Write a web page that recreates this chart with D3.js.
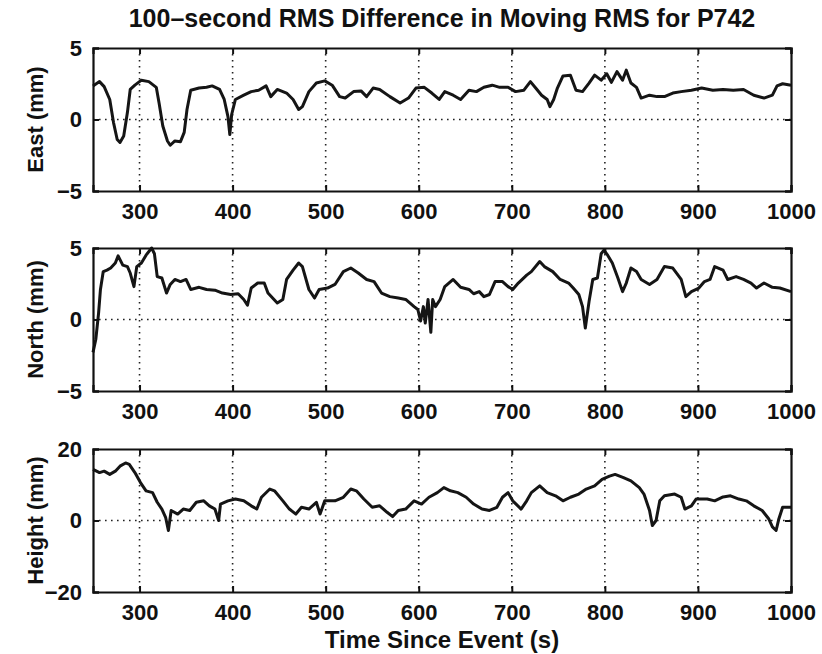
<!DOCTYPE html>
<html>
<head>
<meta charset="utf-8">
<script src="https://cdn.jsdelivr.net/npm/d3@7"></script>
<style>
  body { margin: 0; background: #fff; }
  text { font-family: "Liberation Sans", Arial, Helvetica, sans-serif; font-weight: bold; fill: #111; }
</style>
</head>
<body>
<script>
// time axis ticks (seconds since event)
const xTickValues = [300, 400, 500, 600, 700, 800, 900, 1000];

// East component
const eastTime = [250, 257, 262, 268, 272, 276, 279, 283, 287, 290, 295, 302, 310, 318, 321, 325, 330, 333, 338, 344,
  348, 351, 355, 364, 372, 378, 386, 391, 395, 397, 399, 403, 412, 420, 428, 436, 441, 448, 458, 465,
  471, 475, 482, 490, 499, 507, 515, 521, 530, 538, 544, 551, 558, 569, 580, 589, 597, 606, 614, 622,
  628, 637, 645, 654, 662, 670, 679, 687, 696, 704, 713, 720, 727, 732, 738, 741, 745, 749, 755, 763,
  769, 776, 783, 789, 796, 802, 807, 813, 819, 823, 828, 834, 839, 848, 856, 864, 873, 882, 893, 904,
  916, 927, 938, 949, 960, 971, 980, 985, 991, 1000];
const eastVal = [2.35, 2.65, 2.3, 1.4, -0.2, -1.4, -1.6, -1.15, 0.5, 2.1, 2.4, 2.75, 2.65, 2.25, 1.15, -0.45, -1.5, -1.8, -1.5, -1.55,
  -0.9, 0.7, 2.05, 2.2, 2.25, 2.35, 2.1, 1.4, 0.2, -1.05, 0.35, 1.4, 1.7, 1.95, 2.05, 2.35, 1.6, 2.1, 1.85, 1.4,
  0.7, 0.9, 1.95, 2.55, 2.7, 2.4, 1.6, 1.5, 1.95, 2.0, 1.6, 2.2, 2.1, 1.6, 1.15, 1.5, 2.2, 2.25, 1.85, 1.4,
  1.95, 1.7, 1.4, 2.05, 1.95, 2.25, 2.4, 2.25, 2.25, 1.95, 2.05, 2.65, 2.1, 1.7, 1.4, 0.9, 1.4, 2.2, 3.05, 3.1,
  2.05, 1.95, 2.55, 3.1, 2.75, 3.2, 2.6, 3.35, 2.75, 3.45, 2.55, 2.25, 1.5, 1.7, 1.6, 1.6, 1.85, 1.95, 2.05, 2.2,
  2.05, 2.1, 2.05, 2.1, 1.7, 1.5, 1.7, 2.35, 2.5, 2.4];

// North component
const northTime = [250, 253, 256, 258, 261, 265, 269, 274, 277, 282, 287, 290, 294, 297, 302, 307, 313, 316, 319, 324,
  329, 333, 338, 344, 350, 355, 364, 372, 381, 389, 398, 406, 412, 416, 420, 427, 434, 438, 443, 448,
  454, 458, 465, 471, 475, 482, 488, 493, 502, 510, 519, 527, 535, 544, 552, 560, 569, 578, 586, 595,
  599, 602, 605, 607, 610, 613, 615, 618, 623, 628, 637, 645, 654, 659, 665, 670, 676, 682, 690, 696,
  701, 707, 716, 721, 730, 735, 744, 752, 761, 766, 772, 776, 779, 783, 787, 792, 796, 799, 803, 808,
  814, 819, 823, 828, 834, 839, 848, 856, 864, 873, 882, 887, 893, 901, 907, 913, 918, 927, 932, 941,
  949, 957, 963, 971, 980, 988, 1000];
const northVal = [-2.3, -1.4, 0.45, 2.1, 3.35, 3.45, 3.6, 3.95, 4.45, 3.8, 3.7, 3.25, 2.3, 3.7, 3.95, 4.5, 5.0, 4.6, 3.0, 2.9,
  1.85, 2.45, 2.8, 2.65, 2.8, 2.1, 2.25, 2.1, 2.05, 1.85, 1.75, 1.8, 1.4, 1.0, 2.2, 2.55, 2.55, 1.85, 1.5, 1.15,
  1.4, 2.8, 3.45, 3.95, 3.7, 2.1, 1.5, 2.1, 2.2, 2.45, 3.35, 3.6, 3.25, 2.8, 2.65, 1.85, 1.6, 1.5, 1.4, 0.9,
  0.7, -0.1, 0.9, -0.25, 1.4, -0.9, 1.4, 0.9, 1.4, 2.3, 2.8, 2.25, 2.1, 1.8, 1.95, 1.6, 1.75, 2.65, 2.65, 2.3,
  2.1, 2.55, 3.1, 3.35, 4.05, 3.7, 3.35, 2.8, 2.55, 2.2, 1.75, 0.9, -0.6, 1.25, 2.8, 2.9, 4.6, 4.85, 4.5, 3.95,
  2.9, 1.95, 2.55, 3.6, 3.35, 2.8, 2.45, 2.8, 3.7, 3.6, 2.8, 1.6, 1.95, 2.2, 2.65, 2.8, 3.7, 3.45, 2.8, 3.0,
  2.8, 2.55, 2.2, 2.55, 2.25, 2.2, 1.95];

// Height component
const heightTime = [250, 257, 262, 268, 274, 279, 285, 289, 295, 301, 307, 314, 319, 324, 328, 331, 334, 341, 347, 354,
  361, 369, 375, 381, 385, 387, 395, 403, 412, 420, 426, 431, 440, 445, 454, 461, 468, 474, 482, 490,
  494, 499, 510, 519, 527, 533, 541, 550, 558, 566, 572, 578, 586, 595, 603, 611, 620, 627, 634, 642,
  651, 659, 668, 676, 684, 690, 696, 701, 710, 716, 721, 730, 738, 747, 755, 763, 772, 780, 789, 797,
  805, 811, 820, 828, 837, 842, 848, 851, 855, 859, 864, 875, 882, 886, 893, 898, 910, 918, 927, 935,
  944, 952, 960, 969, 976, 980, 984, 987, 991, 1000];
const heightVal = [14.3, 13.4, 13.8, 12.9, 13.8, 15.2, 16.1, 15.7, 13.4, 10.6, 8.3, 7.8, 5.1, 3.2, 0.9, -2.8, 2.8, 1.8, 3.2, 2.8,
  5.1, 5.5, 4.1, 3.2, 0, 4.6, 5.5, 6.0, 5.5, 4.1, 3.2, 6.5, 8.8, 8.3, 5.5, 3.2, 1.8, 3.7, 3.2, 5.1,
  1.8, 5.5, 5.5, 6.5, 8.8, 8.3, 6.0, 3.7, 4.1, 2.3, 1.1, 2.8, 3.2, 5.5, 4.6, 6.5, 7.8, 9.2, 8.3, 7.8,
  6.5, 4.6, 3.2, 2.8, 3.7, 6.5, 7.8, 5.5, 3.2, 5.5, 7.8, 9.7, 7.8, 6.9, 5.5, 6.5, 7.4, 8.8, 9.7, 11.5,
  12.4, 12.9, 12.0, 11.1, 9.2, 7.4, 2.8, -1.4, 0, 5.5, 6.9, 7.4, 6.5, 3.2, 4.1, 6.0, 6.0, 5.5, 6.6, 6.9,
  6.0, 5.5, 4.1, 2.8, 0.5, -1.8, -2.8, 0.5, 3.7, 3.7];

const width = 822, height = 654;
const margin = { left: 93, right: 31 };
const panelTop = [48, 248, 449];   // top edge of each axes box
const panelHeight = 143;

const svg = d3.select("body").append("svg")
  .attr("width", width)
  .attr("height", height);

const x = d3.scaleLinear()
  .domain([250, 1000])
  .range([margin.left, width - margin.right]);

const panels = [
  { label: "East (mm)",   time: eastTime,   val: eastVal,   domain: [-5, 5],   ticks: [-5, 0, 5] },
  { label: "North (mm)",  time: northTime,  val: northVal,  domain: [-5, 5],   ticks: [-5, 0, 5] },
  { label: "Height (mm)", time: heightTime, val: heightVal, domain: [-20, 20], ticks: [-20, 0, 20] }
];

// title
svg.append("text")
  .attr("x", (x.range()[0] + x.range()[1]) / 2)
  .attr("y", 27)
  .attr("text-anchor", "middle")
  .attr("font-size", 25)
  .text("100\u2013second RMS Difference in Moving RMS for P742");

panels.forEach((p, i) => {
  const top = panelTop[i];
  const bottom = top + panelHeight;
  const y = d3.scaleLinear().domain(p.domain).range([bottom, top]);
  const g = svg.append("g");

  // dotted grid: vertical at x ticks, horizontal at the zero line
  g.selectAll(".vgrid")
    .data(xTickValues.filter(d => d < 1000))
    .join("line")
    .attr("x1", d => x(d)).attr("x2", d => x(d))
    .attr("y1", top).attr("y2", bottom)
    .attr("stroke", "#222")
    .attr("stroke-width", 1.6)
    .attr("stroke-dasharray", "1.6,4.4");

  g.selectAll(".hgrid")
    .data(p.ticks.filter(d => d !== p.domain[0] && d !== p.domain[1]))
    .join("line")
    .attr("x1", x.range()[0]).attr("x2", x.range()[1])
    .attr("y1", d => y(d)).attr("y2", d => y(d))
    .attr("stroke", "#222")
    .attr("stroke-width", 1.6)
    .attr("stroke-dasharray", "1.6,4.4");

  // the data line
  const pts = p.time.map((t, k) => [t, p.val[k]]);
  g.append("path")
    .datum(pts)
    .attr("fill", "none")
    .attr("stroke", "#151515")
    .attr("stroke-width", 3)
    .attr("stroke-linejoin", "round")
    .attr("d", d3.line().x(d => x(d[0])).y(d => y(d[1])));

  // axes, MATLAB style: ticks pointing inward
  const xAxis = d3.axisBottom(x).tickValues(xTickValues).tickSize(-6).tickPadding(12).tickFormat(d3.format("d"));
  const xAxisTop = d3.axisTop(x).tickValues(xTickValues).tickSize(-6).tickFormat("");
  const yAxis = d3.axisLeft(y).tickValues(p.ticks).tickSize(-6).tickPadding(11).tickFormat(d => d < 0 ? "\u2212" + Math.abs(d) : d);
  const yAxisRight = d3.axisRight(y).tickValues(p.ticks).tickSize(-6).tickFormat("");

  [
    g.append("g").attr("transform", `translate(0,${bottom})`).call(xAxis),
    g.append("g").attr("transform", `translate(0,${top})`).call(xAxisTop),
    g.append("g").attr("transform", `translate(${x.range()[0]},0)`).call(yAxis),
    g.append("g").attr("transform", `translate(${x.range()[1]},0)`).call(yAxisRight)
  ].forEach(a => {
    a.select(".domain").attr("stroke", "#111").attr("stroke-width", 2.2);
    a.selectAll(".tick line").attr("stroke", "#111").attr("stroke-width", 2);
    a.selectAll(".tick text").attr("font-size", 22).attr("fill", "#111")
      .style("font-family", "'Liberation Sans', Arial, sans-serif").style("font-weight", "bold");
  });

  // y label
  const cy = (top + bottom) / 2;
  svg.append("text")
    .attr("transform", `translate(43,${cy}) rotate(-90)`)
    .attr("text-anchor", "middle")
    .attr("font-size", 22)
    .text(p.label);
});

// x label
svg.append("text")
  .attr("x", (x.range()[0] + x.range()[1]) / 2)
  .attr("y", 648)
  .attr("text-anchor", "middle")
  .attr("font-size", 24)
  .text("Time Since Event (s)");
</script>
</body>
</html>
